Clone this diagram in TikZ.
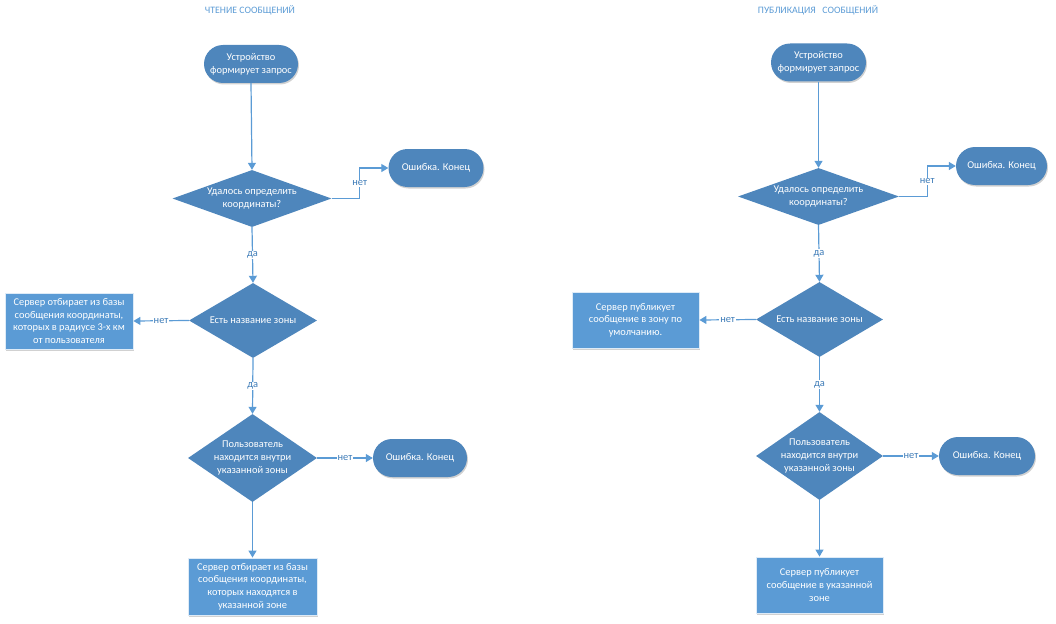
\documentclass[tikz,border=0pt]{standalone}
\usepackage{fontspec}
\setmainfont{Carlito}
\usetikzlibrary{shapes.geometric,arrows.meta,shadows}
\definecolor{dk}{HTML}{4E86BC}
\definecolor{lt}{HTML}{5B9BD5}
\definecolor{ln}{HTML}{5B9BD5}
\definecolor{lbl}{HTML}{3E7CB8}
\newcommand\bfs{\fontsize{10.4}{12.7}\selectfont}
\newcommand\tfs{\fontsize{9.8}{11}\selectfont}
\begin{document}
\begin{tikzpicture}[x=1pt,y=-1pt,
  shd/.style={drop shadow={shadow xshift=1pt,shadow yshift=-1.5pt,opacity=0.18,fill=black}},
  term/.style={rectangle,rounded corners=19pt,fill=dk,text=white,minimum height=38pt,inner sep=0pt,align=center,font=\bfs,shd},
  dec/.style={diamond,fill=dk,text=white,inner sep=0pt,align=center,font=\bfs},
  proc/.style={rectangle,fill=lt,draw=white!80!lt,line width=0.8pt,text=white,inner sep=0pt,align=center,font=\bfs,shd},
  arr/.style={draw=ln,line width=1.2pt,-{Triangle[length=7pt,width=8pt]}},
  lab/.style={fill=white,text=lbl,inner sep=1pt,font=\bfs},
  ttl/.style={text=lt,font=\tfs}]
\useasboundingbox (0,0) rectangle (1056,623);
% ---------- left column ----------
\node[ttl] (t1) at (250,10) {ЧТЕНИЕ СООБЩЕНИЙ};
\node[term,minimum width=94pt] (s1) at (251,64) {Устройство\\формирует запрос};
\node[dec,minimum width=159pt,minimum height=57pt,shape aspect=2.79] (a1) at (252,198.5) {Удалось определить\\координаты?};
\node[term,minimum width=95pt] (e1) at (436,168) {Ошибка. Конец};
\node[dec,minimum width=128pt,minimum height=75pt,shape aspect=1.707] (b1) at (253,320.5) {Есть название зоны};
\node[proc,minimum width=128pt,minimum height=56pt] (p1) at (69,321) {Сервер отбирает из базы\\сообщения координаты,\\которых в радиусе 3-х км\\от пользователя};
\node[dec,minimum width=129pt,minimum height=88pt,shape aspect=1.466] (c1) at (252.5,458) {Пользователь\\находится внутри\\указанной зоны};
\node[term,minimum width=94pt] (f1) at (420,458) {Ошибка. Конец};
\node[proc,minimum width=129pt,minimum height=57pt] (q1) at (252.5,586.5) {Сервер отбирает из базы\\сообщения координаты,\\которых находятся в\\указанной зоне};
\draw[arr] (s1.south) -- (a1.north);
\draw[arr] (a1.east) -- ++(28,0) |- node[lab,pos=0.25] {нет} (e1.west);
\draw[arr] (a1.south) -- node[lab,pos=0.5] {да} (b1.north);
\draw[arr] (b1.west) -- node[lab,pos=0.5] {нет} (p1.east);
\draw[arr] (b1.south) -- node[lab,pos=0.5] {да} (c1.north);
\draw[arr] (c1.east) -- node[lab,pos=0.5] {нет} (f1.west);
\draw[arr] (c1.south) -- (q1.north);
% ---------- right column ----------
\node[ttl] (t2) at (818,10) {ПУБЛИКАЦИЯ\ \ \ СООБЩЕНИЙ};
\node[term,minimum width=95pt] (s2) at (818.5,62.5) {Устройство\\формирует запрос};
\node[dec,minimum width=161pt,minimum height=57pt,shape aspect=2.825] (a2) at (818.5,196.5) {Удалось определить\\координаты?};
\node[term,minimum width=91pt] (e2) at (1001.5,166) {Ошибка. Конец};
\node[dec,minimum width=127pt,minimum height=75pt,shape aspect=1.693] (b2) at (819.5,319.5) {Есть название зоны};
\node[proc,minimum width=127pt,minimum height=56pt] (p2) at (635.5,320) {Сервер публикует\\сообщение в зону по\\умолчанию.};
\node[dec,minimum width=127pt,minimum height=88pt,shape aspect=1.443] (c2) at (819.5,456) {Пользователь\\находится внутри\\указанной зоны};
\node[term,minimum width=96pt] (f2) at (987,456) {Ошибка. Конец};
\node[proc,minimum width=127pt,minimum height=56pt] (q2) at (819.5,585) {Сервер публикует\\сообщение в указанной\\зоне};
\draw[arr] (s2.south) -- (a2.north);
\draw[arr] (a2.east) -- ++(28,0) |- node[lab,pos=0.25] {нет} (e2.west);
\draw[arr] (a2.south) -- node[lab,pos=0.5] {да} (b2.north);
\draw[arr] (b2.west) -- node[lab,pos=0.5] {нет} (p2.east);
\draw[arr] (b2.south) -- node[lab,pos=0.5] {да} (c2.north);
\draw[arr] (c2.east) -- node[lab,pos=0.5] {нет} (f2.west);
\draw[arr] (c2.south) -- (q2.north);
\end{tikzpicture}
\end{document}
